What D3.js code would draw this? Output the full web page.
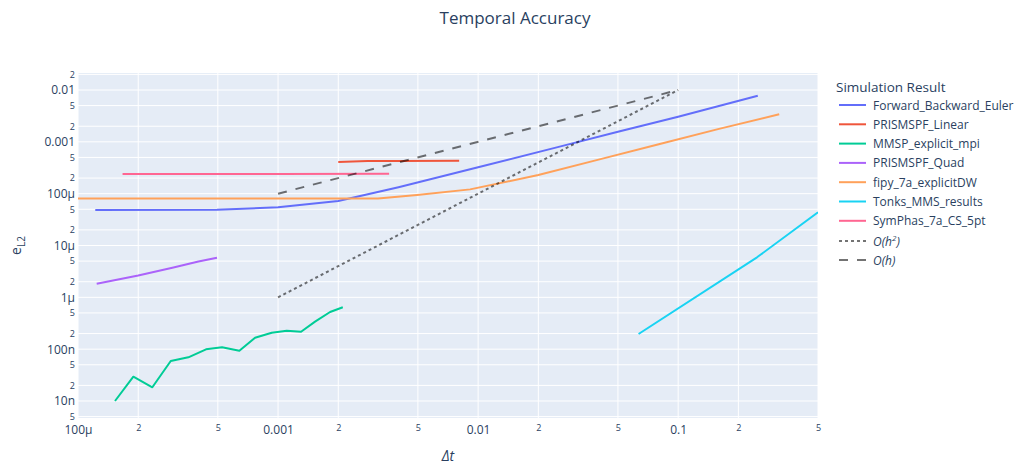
<!DOCTYPE html>
<html><head><meta charset="utf-8">
<script src="https://cdn.jsdelivr.net/npm/d3@7"></script>
<style>
body{margin:0;background:#fff}
text{font-family:"Open Sans",sans-serif;fill:#2a3f5f}
</style></head>
<body><svg id="chart" width="1019" height="470"></svg>
<script>
// ---------- data ----------
const fbeDt  = [1.22e-4, 4.95e-4, 1.0e-3, 2.0e-3, 4.0e-3, 1.0e-2, 2.5e-2, 5.0e-2, 1.0e-1, 2.5e-1];
const fbeErr = [4.84e-5, 4.88e-5, 5.46e-5, 7.2e-5, 1.33e-4, 3.23e-4, 7.9e-4, 1.56e-3, 3.06e-3, 7.76e-3];

const prismLinDt  = [2.0e-3, 2.8e-3, 4.0e-3, 8.04e-3];
const prismLinErr = [4.08e-4, 4.25e-4, 4.28e-4, 4.32e-4];

const mmspDt  = [1.531e-4, 1.891e-4, 2.353e-4, 2.908e-4, 3.561e-4, 4.365e-4, 5.248e-4, 6.406e-4, 7.674e-4, 9.3e-4, 1.105e-3, 1.303e-3, 1.531e-3, 1.82e-3, 2.107e-3];
const mmspErr = [1.0e-8, 2.94e-8, 1.84e-8, 5.91e-8, 6.97e-8, 9.93e-8, 1.086e-7, 9.33e-8, 1.663e-7, 2.07e-7, 2.27e-7, 2.17e-7, 3.39e-7, 5.21e-7, 6.42e-7];

const prismQuadDt  = [1.24e-4, 2.0e-4, 3.0e-4, 4.0e-4, 4.95e-4];
const prismQuadErr = [1.83e-6, 2.64e-6, 3.76e-6, 4.9e-6, 5.81e-6];

const fipyDt  = [9.0e-5, 1.0e-3, 3.16e-3, 4.95e-3, 9.12e-3, 2.0e-2, 4.0e-2, 8.0e-2, 1.6e-1, 3.2e-1];
const fipyErr = [8.07e-5, 8.08e-5, 8.1e-5, 9.42e-5, 1.21e-4, 2.29e-4, 4.54e-4, 9.0e-4, 1.78e-3, 3.4e-3];

const tonksDt  = [6.34e-2, 2.478e-1, 5.0e-1];
const tonksErr = [1.96e-7, 5.92e-6, 4.37e-5];

const symphasDt  = [1.67e-4, 1.0e-3, 3.59e-3];
const symphasErr = [2.39e-4, 2.40e-4, 2.42e-4];

const order2Dt  = [1.0e-3, 1.0e-1];
const order2Err = [1.0e-6, 1.0e-2];
const order1Dt  = [1.0e-3, 1.0e-1];
const order1Err = [1.0e-4, 1.0e-2];

const seriesNames = ["Forward_Backward_Euler","PRISMSPF_Linear","MMSP_explicit_mpi","PRISMSPF_Quad","fipy_7a_explicitDW","Tonks_MMS_results","SymPhas_7a_CS_5pt","O(h2)","O(h)"];

const xTickValues = [1e-4,2e-4,5e-4,1e-3,2e-3,5e-3,1e-2,2e-2,5e-2,1e-1,2e-1,5e-1];
const xTickLabels = ["100μ","2","5","0.001","2","5","0.01","2","5","0.1","2","5"];
const yTickValues = [5e-9,1e-8,2e-8,5e-8,1e-7,2e-7,5e-7,1e-6,2e-6,5e-6,1e-5,2e-5,5e-5,1e-4,2e-4,5e-4,1e-3,2e-3,5e-3,1e-2,2e-2];
const yTickLabels = ["5","10n","2","5","100n","2","5","1μ","2","5","10μ","2","5","100μ","2","5","0.001","2","5","0.01","2"];

// ---------- layout ----------
const svg = d3.select("#chart");
const P = {l:78, r:818, t:73, b:418};
const x = d3.scaleLog().domain([1e-4, 0.5]).range([P.l, P.r]);
const y = d3.scaleLog().domain([Math.pow(10,-8.328), Math.pow(10,-1.672)]).range([P.b, P.t]);

svg.append("rect").attr("width",1019).attr("height",470).attr("fill","#fff");
svg.append("rect").attr("x",P.l).attr("y",P.t).attr("width",P.r-P.l).attr("height",P.b-P.t).attr("fill","#E5ECF6");

// grid
svg.append("g").selectAll("line").data(xTickValues).join("line")
  .attr("x1",d=>x(d)).attr("x2",d=>x(d)).attr("y1",P.t).attr("y2",P.b)
  .attr("stroke","#fff").attr("stroke-width",1);
svg.append("g").selectAll("line").data(yTickValues).join("line")
  .attr("y1",d=>y(d)).attr("y2",d=>y(d)).attr("x1",P.l).attr("x2",P.r)
  .attr("stroke","#fff").attr("stroke-width",1);

// axes via d3
const isMinor = s => s==="2"||s==="5";
const xAxis = d3.axisBottom(x).tickValues(xTickValues).tickFormat((d,i)=>xTickLabels[i]).tickSize(0).tickPadding(0);
const gx = svg.append("g").attr("transform",`translate(0,${P.b})`).call(xAxis);
gx.select(".domain").remove();
gx.selectAll("text").attr("fill","#2a3f5f").attr("dy",null).attr("y",null)
  .each(function(d,i){
    const m = isMinor(xTickLabels[i]);
    d3.select(this).style("font-size", m? "9px":"12px").style("font-family","'Open Sans',sans-serif")
      .attr("y", m? 13:16);
  });

const yAxis = d3.axisLeft(y).tickValues(yTickValues).tickFormat((d,i)=>yTickLabels[i]).tickSize(0).tickPadding(3);
const gy = svg.append("g").attr("transform",`translate(${P.l},0)`).call(yAxis);
gy.select(".domain").remove();
gy.selectAll("text").attr("fill","#2a3f5f")
  .each(function(d,i){
    const m = isMinor(yTickLabels[i]);
    d3.select(this).style("font-size", m? "9px":"12px").style("font-family","'Open Sans',sans-serif");
  });

// clip
svg.append("clipPath").attr("id","clip").append("rect")
  .attr("x",P.l).attr("y",P.t).attr("width",P.r-P.l).attr("height",P.b-P.t);
const plot = svg.append("g").attr("clip-path","url(#clip)");

const line = d3.line().x(d=>x(d[0])).y(d=>y(d[1]));
const zip = (a,b)=>a.map((v,i)=>[v,b[i]]);

const traces = [
  {name:seriesNames[0], d:zip(fbeDt,fbeErr), c:"#636efa"},
  {name:seriesNames[1], d:zip(prismLinDt,prismLinErr), c:"#EF553B"},
  {name:seriesNames[2], d:zip(mmspDt,mmspErr), c:"#00cc96"},
  {name:seriesNames[3], d:zip(prismQuadDt,prismQuadErr), c:"#ab63fa"},
  {name:seriesNames[4], d:zip(fipyDt,fipyErr), c:"#FFA15A"},
  {name:seriesNames[5], d:zip(tonksDt,tonksErr), c:"#19d3f3"},
  {name:seriesNames[6], d:zip(symphasDt,symphasErr), c:"#FF6692"},
  {name:seriesNames[7], d:zip(order2Dt,order2Err), c:"#000", dash:"3,3", op:0.55, ref:2},
  {name:seriesNames[8], d:zip(order1Dt,order1Err), c:"#000", dash:"9,9", op:0.55, ref:1},
];

traces.forEach(t=>{
  plot.append("path").attr("d",line(t.d)).attr("fill","none")
    .attr("stroke",t.c).attr("stroke-width",2)
    .attr("stroke-opacity",t.op||1)
    .attr("stroke-dasharray",t.dash||null)
    .attr("stroke-linejoin","round");
});

// title
svg.append("text").attr("x",515).attr("y",24).attr("text-anchor","middle")
  .style("font-size","17px").text("Temporal Accuracy");

// axis titles
svg.append("text").attr("x",(P.l+P.r)/2).attr("y",461).attr("text-anchor","middle")
  .style("font-size","14px").style("font-style","italic").text("Δt");
const yt = svg.append("text").attr("transform",`translate(21,${(P.t+P.b)/2}) rotate(-90)`)
  .attr("text-anchor","middle").style("font-size","14px");
yt.append("tspan").text("e");
yt.append("tspan").attr("dy",4).style("font-size","10px").text("L2");

// legend
const lg = svg.append("g");
lg.append("text").attr("x",836).attr("y",92).style("font-size","13.5px").text("Simulation Result");
const itemY = [105,124.3,143.6,162.9,182.2,201.5,220.8,241,260];
traces.forEach((t,i)=>{
  const yy = itemY[i];
  lg.append("line").attr("x1",839).attr("x2",866).attr("y1",yy).attr("y2",yy)
    .attr("stroke",t.c).attr("stroke-width",2).attr("stroke-opacity",t.op||1)
    .attr("stroke-dasharray",t.dash||null);
  const tx = lg.append("text").attr("x",873).attr("y",yy+4.5).style("font-size","12px");
  if(t.ref===2){
    tx.style("font-style","italic");
    tx.append("tspan").text("O(h");
    tx.append("tspan").attr("dy",-5).style("font-size","8px").text("2");
    tx.append("tspan").attr("dy",5).text(")");
  } else if(t.ref===1){
    tx.style("font-style","italic").text("O(h)");
  } else {
    tx.text(t.name);
  }
});
</script></body></html>
